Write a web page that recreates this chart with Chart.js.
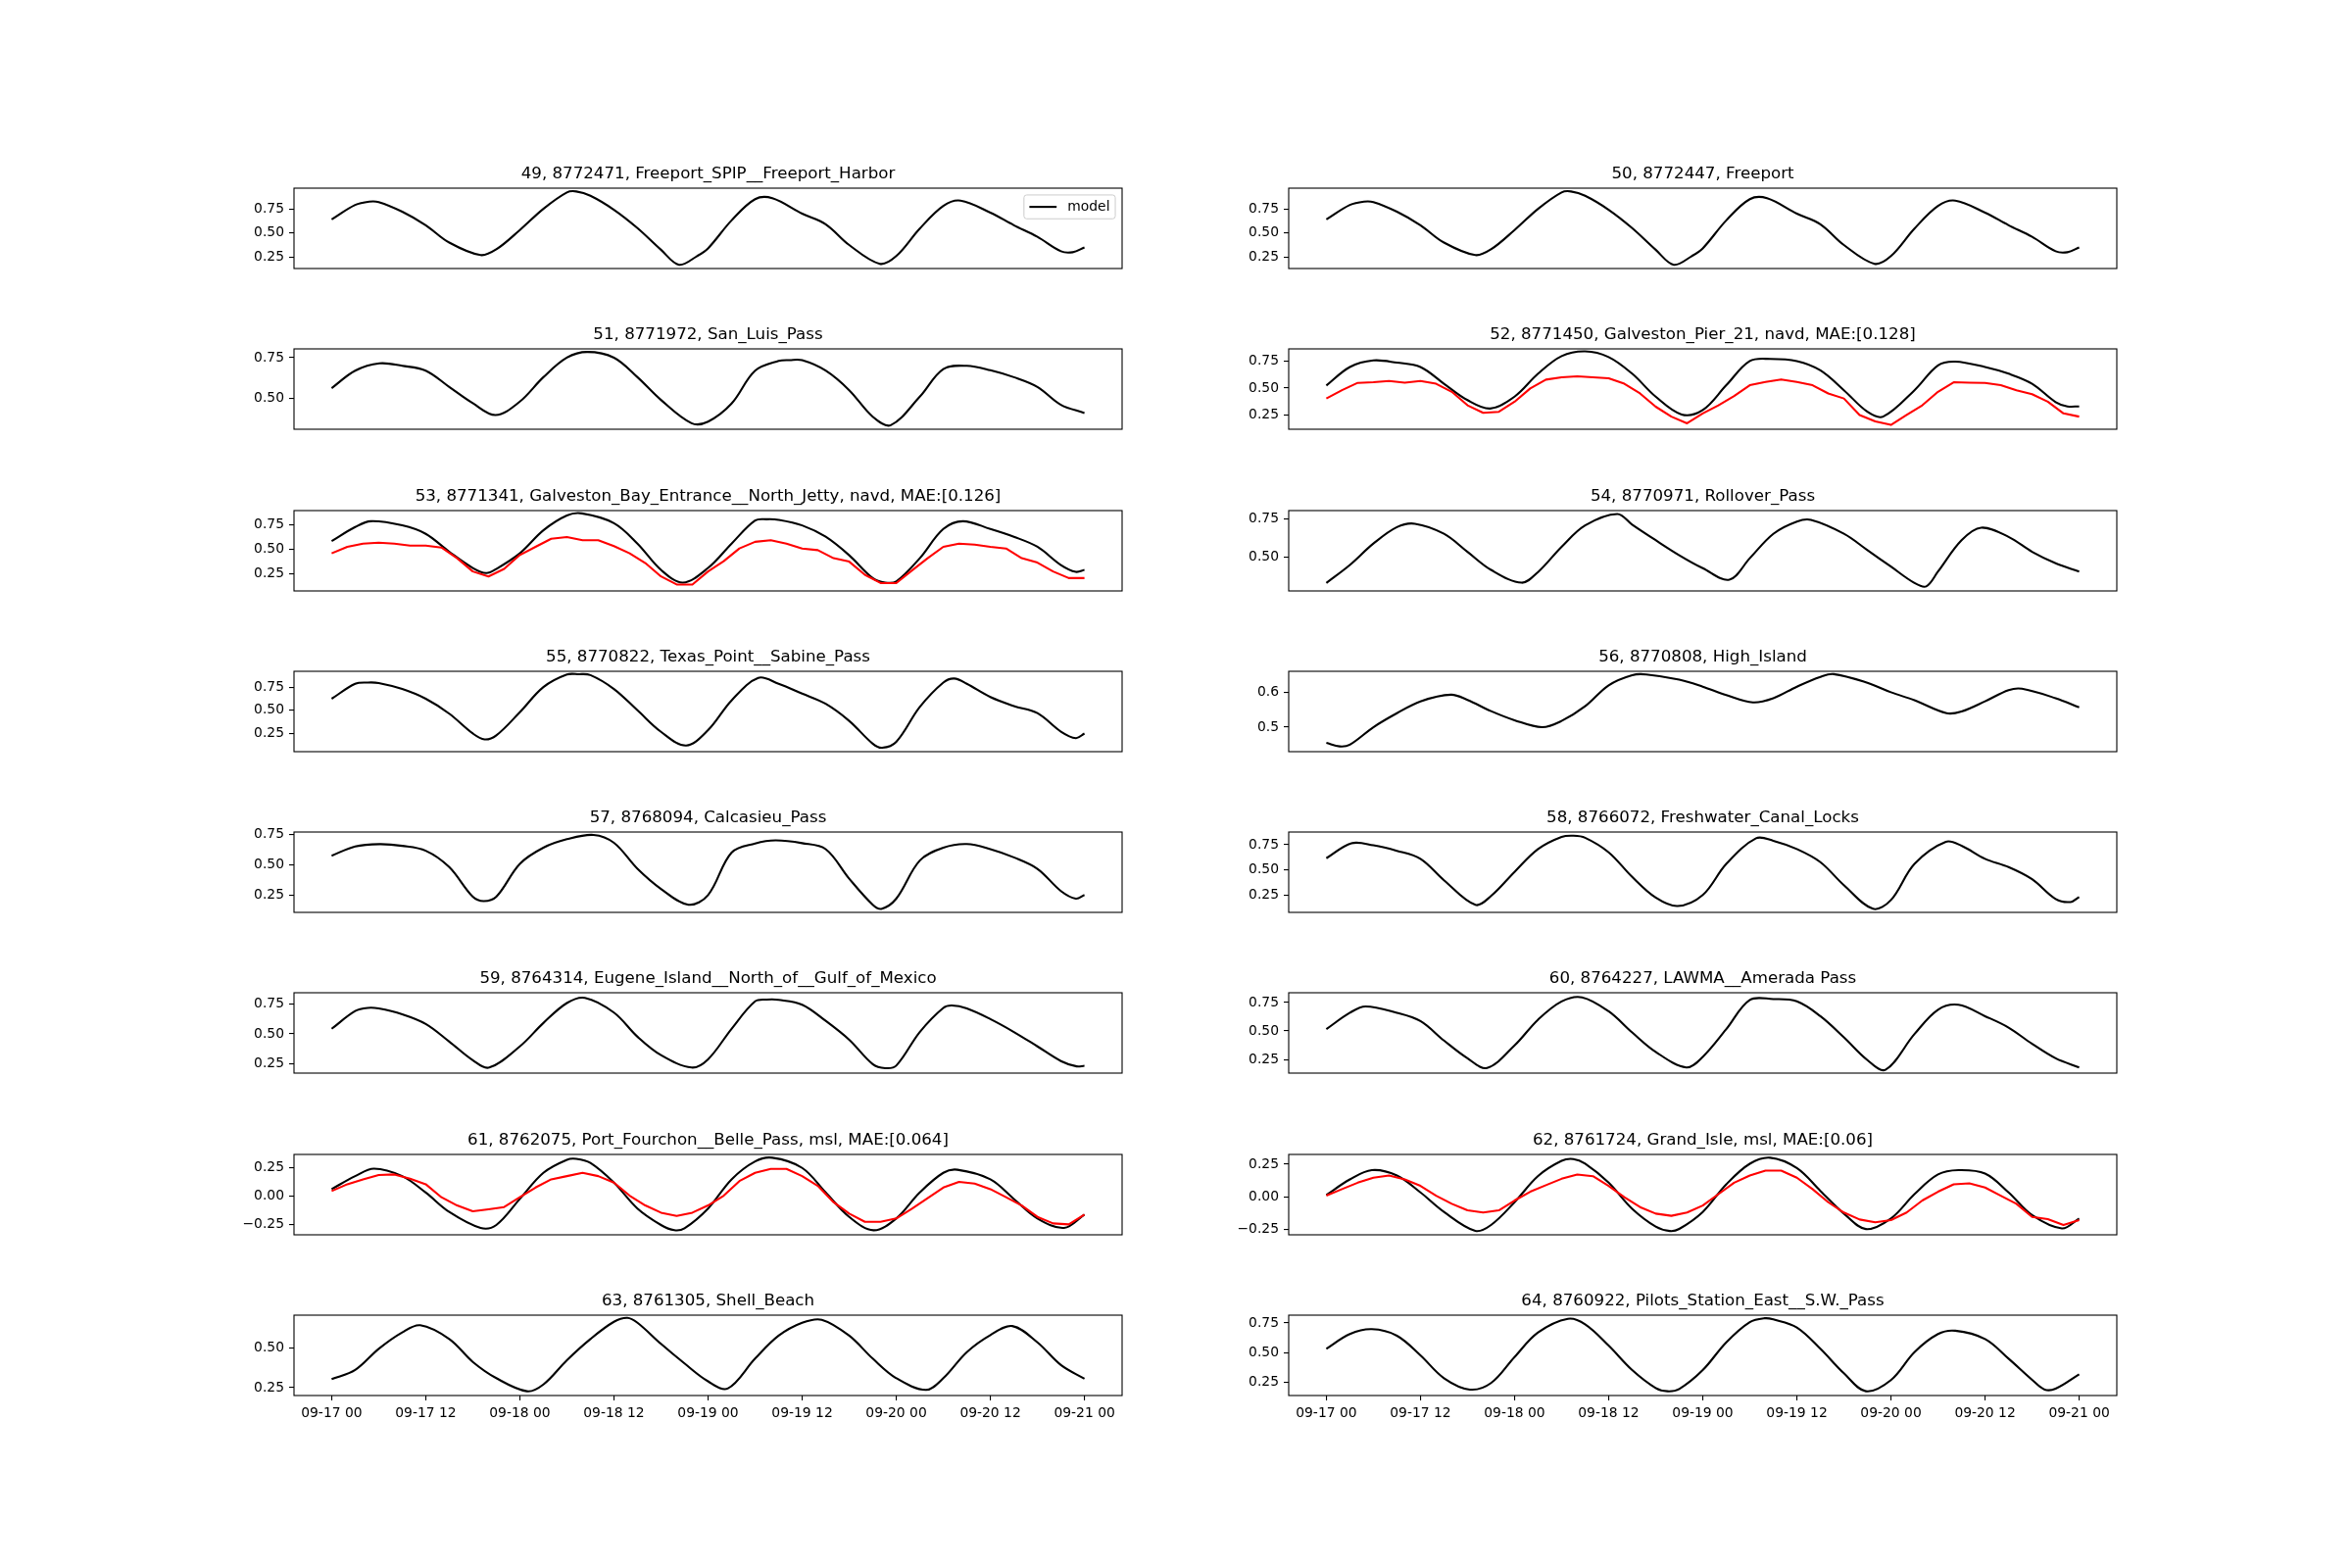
<!DOCTYPE html>
<html>
<head>
<meta charset="utf-8">
<script src="https://cdn.jsdelivr.net/npm/chart.js@4.4.1/dist/chart.umd.min.js"></script>
<style>
html,body{margin:0;padding:0;background:#ffffff;}
body{width:2400px;height:1600px;position:relative;overflow:hidden;}
canvas{position:absolute;}
</style>
</head>
<body>
<script>
// ---------------- DATA ----------------
// time axis in hours after 09-17 00
const X_TICK_HOURS = [0, 12, 24, 36, 48, 60, 72, 84, 96];
const X_TICK_LABELS = ['09-17 00','09-17 12','09-18 00','09-18 12','09-19 00','09-19 12','09-20 00','09-20 12','09-21 00'];
const OBS_HOURS = [0,2,4,6,8,10,12,14,16,18,20,22,24,26,28,30,32,34,36,38,40,42,44,46,48,50,52,54,56,58,60,62,64,66,68,70,72,74,76,78,80,82,84,86,88,90,92,94,96];

const TITLES = [
  '49, 8772471, Freeport_SPIP__Freeport_Harbor',
  '50, 8772447, Freeport',
  '51, 8771972, San_Luis_Pass',
  '52, 8771450, Galveston_Pier_21, navd, MAE:[0.128]',
  '53, 8771341, Galveston_Bay_Entrance__North_Jetty, navd, MAE:[0.126]',
  '54, 8770971, Rollover_Pass',
  '55, 8770822, Texas_Point__Sabine_Pass',
  '56, 8770808, High_Island',
  '57, 8768094, Calcasieu_Pass',
  '58, 8766072, Freshwater_Canal_Locks',
  '59, 8764314, Eugene_Island__North_of__Gulf_of_Mexico',
  '60, 8764227, LAWMA__Amerada Pass',
  '61, 8762075, Port_Fourchon__Belle_Pass, msl, MAE:[0.064]',
  '62, 8761724, Grand_Isle, msl, MAE:[0.06]',
  '63, 8761305, Shell_Beach',
  '64, 8760922, Pilots_Station_East__S.W._Pass'
];

// model water level, [hour, value]
const MODEL_49 = [[0,0.64],[3,0.79],[4.8,0.825],[6,0.82],[9,0.72],[12,0.58],[15,0.40],[19,0.27],[21,0.33],[24,0.53],[27,0.75],[30,0.92],[31.2,0.93],[33,0.885],[36,0.74],[39,0.55],[42,0.325],[44.3,0.17],[46.6,0.26],[48,0.34],[51,0.63],[54,0.85],[56.2,0.86],[60,0.70],[63,0.59],[66,0.375],[69.9,0.18],[72,0.26],[75,0.545],[78,0.78],[80.2,0.835],[84,0.71],[87,0.58],[90,0.46],[93,0.31],[94.5,0.30],[96,0.35]];
const MODEL_50 = [[0,0.64],[3,0.79],[4.8,0.825],[6,0.82],[9,0.72],[12,0.58],[15,0.40],[19,0.27],[21,0.33],[24,0.53],[27,0.75],[30,0.92],[31.2,0.93],[33,0.885],[36,0.74],[39,0.55],[42,0.325],[44.3,0.17],[46.6,0.26],[48,0.34],[51,0.63],[54,0.85],[56.2,0.86],[60,0.70],[63,0.59],[66,0.375],[69.9,0.18],[72,0.26],[75,0.545],[78,0.78],[80.2,0.835],[84,0.71],[87,0.58],[90,0.46],[93,0.31],[94.5,0.30],[96,0.35]];
const MODEL_51 = [[0,0.5625],[3,0.67],[6.1,0.715],[9,0.70],[12,0.67],[15,0.57],[18,0.47],[20.9,0.397],[24,0.48],[27,0.63],[30,0.75],[32.6,0.785],[36,0.75],[39,0.63],[42,0.49],[45.9,0.347],[48,0.357],[51,0.468],[54,0.67],[57,0.73],[58.4,0.735],[60,0.734],[63,0.67],[66,0.55],[69,0.387],[71.3,0.335],[75,0.51],[78,0.68],[81,0.70],[84,0.673],[87,0.63],[90,0.57],[93,0.46],[96,0.41]];
const MODEL_52 = [[0,0.523],[3,0.695],[6,0.756],[9,0.735],[12,0.695],[15,0.54],[18,0.388],[20.9,0.31],[24,0.42],[27,0.633],[30,0.796],[33,0.84],[36,0.787],[39,0.633],[42,0.42],[45.3,0.255],[48,0.296],[51,0.526],[54,0.75],[56.6,0.77],[60,0.75],[63,0.664],[66,0.48],[69,0.28],[71,0.235],[75,0.48],[78,0.71],[80.2,0.745],[84,0.695],[87,0.633],[90,0.54],[93,0.37],[94.5,0.33],[96,0.33]];
const MODEL_53 = [[0,0.585],[3,0.73],[5,0.79],[9,0.747],[12,0.66],[15,0.476],[18,0.31],[19.7,0.257],[21,0.30],[24,0.46],[27,0.696],[30,0.848],[31.9,0.87],[36,0.77],[39,0.56],[42,0.29],[44.8,0.16],[48,0.31],[51,0.56],[54,0.797],[55.5,0.81],[57,0.804],[60,0.747],[63,0.63],[66,0.44],[69,0.206],[70.6,0.16],[72,0.172],[75,0.41],[78,0.71],[80.5,0.79],[84,0.71],[87,0.63],[90,0.527],[93,0.34],[94.9,0.27],[96,0.29]];
const MODEL_54 = [[0,0.328],[3,0.446],[6,0.586],[9,0.694],[11.3,0.716],[15,0.65],[18,0.532],[21,0.414],[24.9,0.33],[27,0.40],[30,0.565],[33,0.705],[37.1,0.78],[39,0.71],[42,0.608],[45,0.51],[48,0.425],[51.4,0.35],[54,0.49],[57,0.65],[60,0.73],[61.8,0.741],[66,0.65],[69,0.543],[72,0.435],[75,0.328],[76.5,0.306],[78,0.403],[81,0.608],[83.5,0.69],[87,0.63],[90,0.532],[93,0.457],[96,0.403]];
const MODEL_55 = [[0,0.625],[3,0.786],[4.6,0.80],[6,0.795],[9,0.73],[12,0.625],[15,0.464],[18,0.25],[19.5,0.186],[21,0.23],[24,0.48],[27,0.75],[30,0.886],[31.5,0.89],[33,0.88],[36,0.73],[39,0.50],[42,0.268],[45.2,0.12],[48,0.286],[51,0.607],[54.4,0.85],[57,0.786],[60,0.68],[63,0.57],[66,0.386],[69,0.14],[70.2,0.096],[72,0.16],[75,0.536],[78,0.80],[79.4,0.843],[81,0.786],[84,0.643],[87,0.546],[90,0.47],[93,0.27],[94.9,0.20],[96,0.25]];
const MODEL_56 = [[0,0.455],[1.7,0.445],[3,0.45],[6,0.50],[9,0.54],[12,0.574],[15.9,0.593],[18,0.578],[21,0.546],[24,0.52],[27.5,0.50],[30,0.518],[33,0.56],[36,0.62],[39,0.649],[40.8,0.651],[45,0.636],[48,0.616],[51,0.592],[54.4,0.571],[57,0.583],[60,0.616],[63,0.644],[64.7,0.652],[69,0.627],[72,0.60],[75,0.577],[79.1,0.54],[81,0.545],[84,0.574],[87,0.606],[88.7,0.61],[93,0.583],[96,0.557]];
const MODEL_57 = [[0,0.574],[3,0.65],[6.1,0.669],[9,0.655],[12,0.615],[15,0.48],[18,0.236],[19.4,0.20],[21,0.236],[24,0.507],[27,0.64],[30,0.71],[33.4,0.745],[36,0.68],[39,0.466],[42,0.30],[45.5,0.17],[48,0.25],[51,0.60],[54,0.674],[56.6,0.70],[60,0.677],[63,0.628],[66,0.385],[69,0.17],[70.1,0.136],[72,0.22],[75,0.534],[78,0.64],[81,0.67],[84,0.628],[87,0.56],[90,0.466],[93,0.283],[94.9,0.22],[96,0.25]];
const MODEL_58 = [[0,0.616],[3.2,0.765],[6,0.745],[9,0.69],[12,0.61],[15,0.397],[19,0.152],[21,0.24],[24,0.48],[27,0.707],[30,0.828],[31.5,0.84],[33,0.82],[36,0.675],[39,0.43],[42,0.224],[44.8,0.14],[48,0.25],[51,0.56],[54.8,0.815],[57,0.79],[60,0.707],[63,0.577],[66,0.348],[69.7,0.113],[72,0.20],[75,0.56],[79,0.78],[81,0.74],[84,0.61],[87,0.528],[90,0.407],[93,0.21],[94.9,0.18],[96,0.23]];
const MODEL_59 = [[0,0.543],[3,0.693],[4.6,0.72],[6,0.715],[9,0.666],[12,0.584],[15,0.435],[18,0.277],[20.1,0.215],[24,0.394],[27,0.592],[30,0.761],[32.3,0.805],[36,0.68],[39,0.476],[42,0.32],[45.9,0.215],[48,0.285],[51,0.543],[54,0.775],[55.5,0.79],[57,0.788],[60,0.747],[63,0.61],[66,0.45],[69,0.244],[70.6,0.21],[72,0.231],[75,0.516],[78,0.72],[79.1,0.74],[81,0.715],[84,0.625],[87,0.516],[90,0.394],[93,0.27],[95,0.225],[96,0.23]];
const MODEL_60 = [[0,0.516],[3,0.66],[5,0.716],[9,0.66],[12,0.587],[15,0.416],[18,0.26],[20.5,0.175],[24,0.373],[27,0.60],[30,0.76],[32.6,0.796],[36,0.673],[39,0.487],[42,0.316],[45.9,0.18],[48,0.273],[51,0.516],[54,0.773],[57,0.78],[60,0.76],[63,0.63],[66,0.444],[69,0.244],[71.3,0.159],[75,0.473],[78,0.687],[80.6,0.73],[84,0.63],[87,0.53],[90,0.387],[93,0.26],[96,0.18]];
const MODEL_61 = [[0,0.06],[3,0.174],[5.4,0.24],[9,0.174],[12,0.03],[15,-0.14],[19,-0.28],[21,-0.254],[24,-0.026],[27,0.203],[30,0.317],[31.2,0.325],[33,0.289],[36,0.117],[39,-0.11],[42,-0.254],[43.7,-0.30],[45,-0.283],[48,-0.11],[51,0.146],[54,0.303],[56.2,0.335],[60,0.246],[63,0.031],[66,-0.183],[69.1,-0.30],[72,-0.197],[75,0.031],[78,0.203],[79.8,0.23],[84,0.146],[87,-0.026],[90,-0.197],[93.4,-0.28],[96,-0.163]];
const MODEL_62 = [[0,0.015],[3,0.134],[5.8,0.205],[9,0.164],[12,0.035],[15,-0.114],[19,-0.259],[21,-0.214],[24,-0.04],[27,0.16],[30,0.276],[31.5,0.29],[33,0.254],[36,0.109],[39,-0.09],[42,-0.226],[43.8,-0.26],[45,-0.244],[48,-0.114],[51,0.097],[54,0.254],[56.6,0.30],[60,0.221],[63,0.047],[66,-0.127],[68.8,-0.245],[72,-0.164],[75,0.022],[78,0.172],[80.6,0.205],[84,0.179],[87,0.035],[90,-0.139],[93.8,-0.24],[96,-0.164]];
const MODEL_63 = [[0,0.304],[3,0.362],[6,0.496],[9,0.60],[11.3,0.645],[15,0.558],[18,0.413],[21,0.31],[24.9,0.227],[27,0.27],[30,0.424],[33,0.558],[36,0.667],[37.7,0.692],[39,0.661],[42,0.527],[45,0.403],[48,0.29],[50.5,0.244],[54,0.434],[57,0.579],[60,0.661],[62.5,0.68],[66,0.579],[69,0.434],[72,0.31],[75.8,0.236],[78,0.31],[81,0.475],[84,0.583],[86.8,0.64],[90,0.537],[93,0.393],[96,0.306]];
const MODEL_64 = [[0,0.533],[3,0.657],[5.8,0.698],[9,0.643],[12,0.478],[15,0.286],[18.3,0.19],[21,0.245],[24,0.464],[27,0.67],[30.8,0.785],[33,0.739],[36,0.56],[39,0.354],[42,0.203],[43.5,0.176],[45,0.195],[48,0.354],[51,0.588],[54,0.758],[55.9,0.79],[57,0.78],[60,0.712],[63,0.533],[66,0.327],[68.8,0.176],[72,0.27],[75,0.505],[78,0.657],[80.2,0.685],[84,0.615],[87,0.45],[90,0.272],[91.6,0.19],[93,0.198],[96,0.319]];

// observed water level, values at OBS_HOURS
const OBS_52 = [0.403,0.48,0.548,0.554,0.566,0.55,0.566,0.54,0.465,0.34,0.27,0.28,0.373,0.496,0.578,0.60,0.608,0.60,0.59,0.54,0.45,0.327,0.235,0.173,0.265,0.34,0.425,0.526,0.556,0.58,0.556,0.526,0.45,0.403,0.25,0.19,0.158,0.25,0.34,0.465,0.554,0.55,0.547,0.526,0.48,0.443,0.373,0.265,0.235];
const OBS_53 = [0.46,0.527,0.56,0.57,0.56,0.54,0.54,0.52,0.41,0.274,0.223,0.30,0.443,0.527,0.61,0.628,0.595,0.595,0.534,0.46,0.36,0.223,0.14,0.14,0.274,0.38,0.51,0.578,0.595,0.56,0.51,0.493,0.41,0.375,0.24,0.155,0.155,0.284,0.41,0.527,0.56,0.55,0.527,0.51,0.41,0.365,0.274,0.206,0.206];
const OBS_61 = [0.043,0.103,0.146,0.183,0.189,0.151,0.103,-0.011,-0.083,-0.134,-0.117,-0.097,-0.011,0.074,0.146,0.174,0.203,0.174,0.117,0.003,-0.083,-0.146,-0.174,-0.146,-0.083,0.003,0.131,0.203,0.237,0.237,0.174,0.089,-0.054,-0.154,-0.226,-0.226,-0.197,-0.111,-0.02,0.074,0.123,0.109,0.06,-0.011,-0.083,-0.183,-0.24,-0.249,-0.163];
const OBS_62 = [0.01,0.06,0.109,0.147,0.164,0.134,0.085,0.01,-0.052,-0.102,-0.119,-0.102,-0.027,0.04,0.09,0.139,0.172,0.159,0.085,-0.002,-0.077,-0.127,-0.144,-0.119,-0.065,0.022,0.109,0.164,0.201,0.201,0.147,0.06,-0.04,-0.119,-0.172,-0.194,-0.177,-0.119,-0.027,0.04,0.097,0.104,0.072,0.01,-0.052,-0.152,-0.169,-0.214,-0.177];

const MODELS = [MODEL_49, MODEL_50, MODEL_51, MODEL_52, MODEL_53, MODEL_54, MODEL_55, MODEL_56,
                MODEL_57, MODEL_58, MODEL_59, MODEL_60, MODEL_61, MODEL_62, MODEL_63, MODEL_64];
const OBSERVED = [null, null, null, OBS_52, OBS_53, null, null, null,
                  null, null, null, null, OBS_61, OBS_62, null, null];

// y axis limits and tick labels per panel
const Y_LIMITS = [[0.131,0.964],[0.131,0.964],[0.31,0.804],[0.118,0.863],[0.074,0.899],[0.276,0.802],[0.054,0.921],[0.43,0.66],
                  [0.107,0.769],[0.077,0.877],[0.168,0.848],[0.13,0.836],[-0.34,0.364],[-0.289,0.325],[0.20,0.709],[0.14,0.816]];
const Y_TICKS = [[0.25,0.5,0.75],[0.25,0.5,0.75],[0.5,0.75],[0.25,0.5,0.75],[0.25,0.5,0.75],[0.5,0.75],[0.25,0.5,0.75],[0.5,0.6],
                 [0.25,0.5,0.75],[0.25,0.5,0.75],[0.25,0.5,0.75],[0.25,0.5,0.75],[-0.25,0,0.25],[-0.25,0,0.25],[0.25,0.5],[0.25,0.5,0.75]];
const Y_DECIMALS = [2,2,2,2,2,2,2,1,2,2,2,2,2,2,2,2];

// ---------------- LAYOUT / STYLE ----------------
const FONT = "'DejaVu Sans', 'Liberation Sans', sans-serif";
const TITLE_FS = 16.67, TICK_FS = 13.89;
const FIG = { top: 192, bottom: 1424, left: 300, right: 2160, wspace: 0.2, hspace: 1.0, rows: 8, cols: 2 };
const AXW = (FIG.right - FIG.left) / (FIG.cols + (FIG.cols - 1) * FIG.wspace);
const AXH = (FIG.bottom - FIG.top) / (FIG.rows + (FIG.rows - 1) * FIG.hspace);
const YW = 100, PR = 12, TH = 34, XH_BOTTOM = 32, PB = 2;
const X_MIN = -4.8, X_MAX = 100.8;

Chart.defaults.font.family = FONT;
Chart.defaults.color = '#000';

const framePlugin = {
  id: 'axFrame',
  afterDatasetsDraw(chart) {
    const a = chart.chartArea, ctx = chart.ctx;
    ctx.save();
    ctx.strokeStyle = '#000';
    ctx.lineWidth = 1.1;
    ctx.strokeRect(a.left, a.top, a.right - a.left, a.bottom - a.top);
    ctx.restore();
  }
};

const innerLegend = {
  id: 'innerLegend',
  afterDraw(chart, args, opts) {
    if (!opts || !opts.display) return;
    const ctx = chart.ctx, a = chart.chartArea;
    const fs = TICK_FS;
    const items = chart.data.datasets.filter(d => d.label);
    ctx.save();
    ctx.font = fs + 'px ' + FONT;
    const tw = Math.max(...items.map(d => ctx.measureText(d.label).width));
    const bp = 0.4 * fs, hl = 2 * fs, hp = 0.8 * fs, ap = 0.5 * fs, rh = 0.95 * fs;
    const w = bp + hl + hp + tw + bp, h = 2 * bp + items.length * rh;
    const x0 = a.right - ap - w, y0 = a.top + ap;
    ctx.beginPath();
    if (ctx.roundRect) ctx.roundRect(x0, y0, w, h, 0.2 * fs); else ctx.rect(x0, y0, w, h);
    ctx.fillStyle = 'rgba(255,255,255,0.8)';
    ctx.fill();
    ctx.strokeStyle = '#cccccc';
    ctx.lineWidth = 1;
    ctx.stroke();
    items.forEach((d, k) => {
      const cy = y0 + bp + (k + 0.5) * rh;
      ctx.beginPath();
      ctx.moveTo(x0 + bp, cy);
      ctx.lineTo(x0 + bp + hl, cy);
      ctx.strokeStyle = d.borderColor;
      ctx.lineWidth = d.borderWidth;
      ctx.stroke();
      ctx.fillStyle = '#000';
      ctx.textBaseline = 'middle';
      ctx.textAlign = 'left';
      ctx.fillText(d.label, x0 + bp + hl + hp, cy + 0.5);
    });
    ctx.restore();
  }
};

function fmtY(v, dec) {
  const s = Math.abs(v) < 1e-9 ? (0).toFixed(dec) : v.toFixed(dec);
  return s.replace('-', '\u2212');
}

for (let i = 0; i < TITLES.length; i++) {
  const r = Math.floor(i / 2), c = i % 2;
  const bottomRow = r === FIG.rows - 1;
  const axLeft = Math.round(FIG.left + c * AXW * (1 + FIG.wspace));
  const axTop = Math.round(FIG.top + r * AXH * (1 + FIG.hspace));
  const aw = Math.round(AXW), ah = Math.round(AXH);
  const xh = bottomRow ? XH_BOTTOM : 0;
  const W = YW + aw + PR, H = TH + ah + xh + PB;

  const cv = document.createElement('canvas');
  cv.width = W; cv.height = H;
  cv.style.width = W + 'px'; cv.style.height = H + 'px';
  cv.style.left = (axLeft - YW) + 'px';
  cv.style.top = (axTop - TH) + 'px';
  document.body.appendChild(cv);

  const datasets = [{
    label: 'model',
    data: MODELS[i].map(p => ({ x: p[0], y: p[1] })),
    borderColor: '#000000',
    borderWidth: 2.08,
    pointRadius: 0,
    tension: 0.35,
    fill: false,
    borderJoinStyle: 'round',
    order: 1
  }];
  if (OBSERVED[i]) {
    datasets.push({
      label: 'obs',
      data: OBS_HOURS.map((h, k) => ({ x: h, y: OBSERVED[i][k] })),
      borderColor: '#ff0000',
      borderWidth: 2.08,
      pointRadius: 0,
      tension: 0,
      fill: false,
      borderJoinStyle: 'round',
      order: 0
    });
  }

  const yTicks = Y_TICKS[i], yDec = Y_DECIMALS[i];
  new Chart(cv, {
    type: 'line',
    data: { datasets },
    plugins: [framePlugin, innerLegend],
    options: {
      responsive: false,
      animation: false,
      devicePixelRatio: 1,
      events: [],
      layout: { padding: { left: 0, right: PR, top: 0, bottom: PB } },
      plugins: {
        legend: { display: false },
        tooltip: { enabled: false },
        title: {
          display: true,
          text: TITLES[i],
          fullSize: false,
          color: '#000',
          font: { family: FONT, size: TITLE_FS, weight: 'normal', lineHeight: 1.2 },
          padding: { top: 10, bottom: 4 }
        },
        innerLegend: { display: i === 0 }
      },
      scales: {
        x: {
          type: 'linear',
          min: X_MIN,
          max: X_MAX,
          bounds: 'data',
          display: bottomRow,
          afterBuildTicks: (s) => { s.ticks = X_TICK_HOURS.map(v => ({ value: v })); },
          afterFit: (s) => { s.height = xh; s.paddingLeft = 0; s.paddingRight = 0; s.paddingTop = 0; s.paddingBottom = 0; },
          grid: { display: true, drawOnChartArea: false, drawTicks: true, tickLength: 5, color: '#000', lineWidth: 1.1 },
          border: { display: false },
          ticks: {
            autoSkip: false, maxRotation: 0, minRotation: 0, padding: 5, color: '#000',
            font: { family: FONT, size: TICK_FS },
            callback: (v) => { const k = X_TICK_HOURS.indexOf(v); return k >= 0 ? X_TICK_LABELS[k] : ''; }
          }
        },
        y: {
          type: 'linear',
          min: Y_LIMITS[i][0],
          max: Y_LIMITS[i][1],
          bounds: 'data',
          afterBuildTicks: (s) => { s.ticks = yTicks.map(v => ({ value: v })); },
          afterFit: (s) => { s.width = YW; s.paddingLeft = 0; s.paddingRight = 0; s.paddingTop = 0; s.paddingBottom = 0; },
          grid: { display: true, drawOnChartArea: false, drawTicks: true, tickLength: 5, color: '#000', lineWidth: 1.1 },
          border: { display: false },
          ticks: {
            padding: 5, color: '#000',
            font: { family: FONT, size: TICK_FS },
            callback: (v) => fmtY(v, yDec)
          }
        }
      }
    }
  });
}
</script>
</body>
</html>
